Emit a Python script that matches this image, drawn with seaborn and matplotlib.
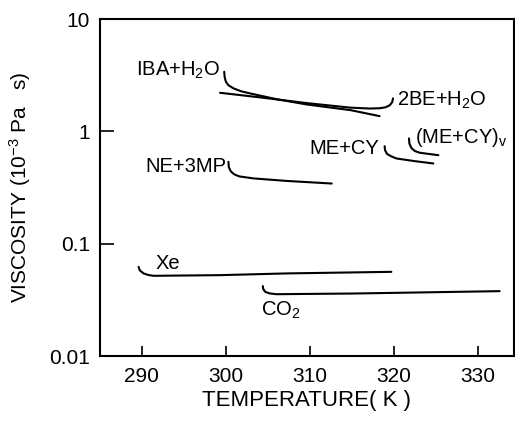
import numpy as np
import pandas as pd
import matplotlib
matplotlib.use('Agg')
import matplotlib.pyplot as plt
import seaborn as sns

# viscosity curves: temperature (K) and viscosity (10^-3 Pa s)
iba_T = [299.8, 299.85, 300.0, 300.3, 300.9, 301.8, 302.9, 306.0, 309.6, 314.8, 318.3]
iba_v = [3.40, 3.05, 2.77, 2.58, 2.42, 2.28, 2.18, 1.94, 1.74, 1.55, 1.37]

be_T = [299.3, 304.1, 309.6, 314.8, 317.1, 318.3, 319.0, 319.5, 319.8, 319.9]
be_v = [2.21, 2.01, 1.79, 1.63, 1.60, 1.61, 1.64, 1.71, 1.82, 1.97]

mecy_T = [318.9, 318.95, 319.2, 319.7, 320.3, 322.5, 324.7]
mecy_v = [0.74, 0.68, 0.63, 0.60, 0.575, 0.544, 0.519]

mecyv_T = [321.8, 321.85, 322.1, 322.5, 323.1, 325.3]
mecyv_v = [0.867, 0.78, 0.71, 0.67, 0.646, 0.615]

ne_T = [300.3, 300.35, 300.6, 301.0, 301.6, 303.3, 307.2, 312.6]
ne_v = [0.537, 0.48, 0.44, 0.415, 0.398, 0.382, 0.363, 0.344]

xe_T = [289.6, 289.75, 290.2, 290.8, 291.4, 299.3, 307.2, 319.7]
xe_v = [0.0624, 0.058, 0.0545, 0.0527, 0.0519, 0.0526, 0.0545, 0.0563]

co2_T = [304.4, 304.45, 304.7, 305.2, 306.0, 315.2, 332.6]
co2_v = [0.0420, 0.0395, 0.0373, 0.0362, 0.0356, 0.0361, 0.0379]

series = {
    'IBA': (iba_T, iba_v),
    '2BE': (be_T, be_v),
    'ME+CY': (mecy_T, mecy_v),
    'ME+CYv': (mecyv_T, mecyv_v),
    'NE+3MP': (ne_T, ne_v),
    'Xe': (xe_T, xe_v),
    'CO2': (co2_T, co2_v),
}

frames = []
for name, (T, v) in series.items():
    frames.append(pd.DataFrame({'T': T, 'visc': v, 'name': name}))
df = pd.concat(frames, ignore_index=True)

sns.set_style('ticks')
plt.rcParams['font.family'] = ['Liberation Sans', 'DejaVu Sans']
plt.rcParams['mathtext.fontset'] = 'custom'
plt.rcParams['mathtext.rm'] = 'Liberation Sans'
plt.rcParams['mathtext.it'] = 'Liberation Sans'
plt.rcParams['text.color'] = 'black'
plt.rcParams['axes.labelcolor'] = 'black'
plt.rcParams['xtick.color'] = 'black'
plt.rcParams['ytick.color'] = 'black'

fig = plt.figure(figsize=(5.15, 4.25), dpi=100)
ax = fig.add_axes([0.194, 0.162, 0.804, 0.793])

for name in series:
    sub = df[df['name'] == name]
    sns.lineplot(data=sub, x='T', y='visc', sort=False, estimator=None,
                 color='black', linewidth=1.5, ax=ax)

ax.set_yscale('log')
ax.set_xlim(285, 334.3)
ax.set_ylim(0.01, 10)
ax.set_xticks([290, 300, 310, 320, 330])
ax.set_yticks([0.01, 0.1, 1, 10])
ax.set_yticklabels(['0.01', '0.1', '1', '10'])
ax.minorticks_off()
ax.tick_params(axis='y', direction='in', length=10, width=1.2, labelsize=15, pad=7)
ax.tick_params(axis='x', direction='in', length=7, width=1.2, labelsize=15, pad=8)
for s in ax.spines.values():
    s.set_linewidth(1.5)
    s.set_color('black')

ax.set_xlabel('TEMPERATURE( K )', fontsize=16, labelpad=3)
ax.set_ylabel('VISCOSITY (10$\\mathregular{^{-3}}$ Pa   s)', fontsize=15, labelpad=12)

fs = 14.5
ax.text(299.3, 3.5, 'IBA+H$\\mathregular{_2}$O', ha='right', va='center', fontsize=fs)
ax.text(320.4, 1.90, '2BE+H$\\mathregular{_2}$O', ha='left', va='center', fontsize=fs)
ax.text(318.3, 0.706, 'ME+CY', ha='right', va='center', fontsize=fs)
ax.text(322.5, 0.89, '(ME+CY)$\\mathregular{_v}$', ha='left', va='center', fontsize=fs)
ax.text(300.0, 0.484, 'NE+3MP', ha='right', va='center', fontsize=fs)
ax.text(291.6, 0.0668, 'Xe', ha='left', va='center', fontsize=fs)
ax.text(304.2, 0.0255, 'CO$\\mathregular{_2}$', ha='left', va='center', fontsize=fs)

fig.savefig('out.png', dpi=100)
